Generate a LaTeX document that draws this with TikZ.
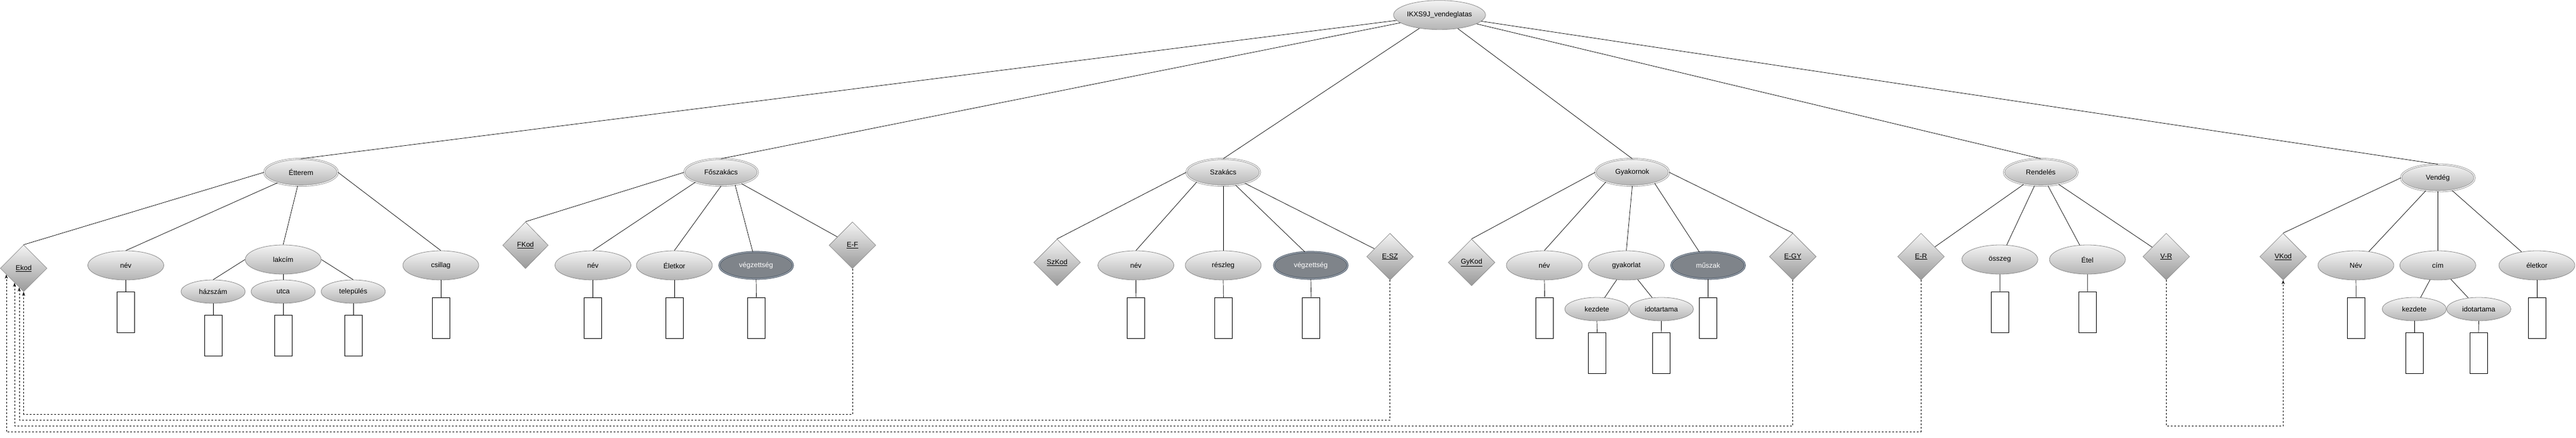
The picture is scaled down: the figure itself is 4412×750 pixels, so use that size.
\documentclass[tikz,border=0pt]{standalone}
\usepackage{fontspec}
\setmainfont{Liberation Sans}
\usetikzlibrary{shapes.geometric,arrows.meta}
\definecolor{gtop}{HTML}{F4F4F4}
\definecolor{gbot}{HTML}{B4B4B4}
\definecolor{gline}{HTML}{8C8C8C}
\definecolor{dfill}{HTML}{7F848A}
\definecolor{dline}{HTML}{4E5A68}
\definecolor{dgap}{HTML}{A9B0B8}
\tikzset{
 base/.style={font=\fontsize{12}{14}\selectfont, inner sep=0pt, text=black},
 attr/.style={base, ellipse, draw=gline, line width=0.8pt, top color=gtop, bottom color=gbot, minimum width=130pt, minimum height=50pt},
 subattr/.style={attr, minimum width=110pt, minimum height=40pt},
 entity/.style={attr, double=white, double distance=1.4pt, minimum width=126pt, minimum height=46pt},
 multi/.style={base, ellipse, draw=dline, double=dgap, double distance=1.2pt, line width=1pt, fill=dfill, text=white, minimum width=126pt, minimum height=46pt},
 keyd/.style={base, diamond, draw=gline, line width=0.8pt, top color=gtop, bottom color=gbot!85!black, minimum width=80pt, minimum height=80pt},
 valbox/.style={draw=black, line width=0.8pt, fill=white, minimum width=30pt, minimum height=70pt, inner sep=0pt},
 link/.style={draw=black, line width=0.7pt},
 fk/.style={draw=black, line width=0.7pt, dash pattern=on 3pt off 3pt, -{Stealth[length=7pt,width=5pt]}},
}
\begin{document}
\begin{tikzpicture}[x=1pt,y=-1pt]
\useasboundingbox (0,0) rectangle (4412,750);
\fill[white] (0,0) rectangle (4412,750);

% root
\node[attr, minimum width=129pt] (root) at (2465.5,25.7) {IKXS9J\_vendeglatas};

% entities
\node[entity] (etterem) at (515.5,295.5) {Étterem};
\node[entity] (fosz) at (1235,295.5) {Főszakács};
\node[entity] (szak) at (2095,295.5) {Szakács};
\node[entity] (gyak) at (2795.6,295.5) {Gyakornok};
\node[entity] (rend) at (3495.3,295.5) {Rendelés};
\node[entity] (vend) at (4175.3,305) {Vendég};

% Etterem attributes
\node[keyd] (ekod) at (40.5,460) {\underline{Ekod}};
\node[attr] (enev) at (215.5,455) {név};
\node[attr] (lakcim) at (485,445) {lakcím};
\node[subattr] (hazszam) at (365,500) {házszám};
\node[subattr] (utca) at (485,500) {utca};
\node[subattr] (telep) at (605,500) {település};
\node[attr] (csillag) at (755,455) {csillag};
\node[valbox] (benev) at (215.5,535) {};
\node[valbox] (bhaz) at (365,575) {};
\node[valbox] (butca) at (485,575) {};
\node[valbox] (btelep) at (605,575) {};
\node[valbox] (bcsil) at (755,545) {};

% Foszakacs attributes
\node[keyd, minimum width=78pt] (fkod) at (900,420.5) {\underline{FKod}};
\node[attr] (fnev) at (1015.5,455) {név};
\node[attr] (eletkor) at (1155,455) {Életkor};
\node[multi] (fvegz) at (1295,455) {végzettség};
\node[keyd] (ef) at (1460,420.5) {\underline{E-F}};
\node[valbox] (bfnev) at (1015.5,545) {};
\node[valbox] (belet) at (1155,545) {};
\node[valbox] (bfvegz) at (1295.5,545) {};

% Szakacs attributes
\node[keyd] (szkod) at (1810.5,450) {\underline{SzKod}};
\node[attr] (snev) at (1945.5,455) {név};
\node[attr] (reszleg) at (2095,455) {részleg};
\node[multi] (svegz) at (2245,455) {végzettség};
\node[keyd] (esz) at (2380.7,440) {\underline{E-SZ}};
\node[valbox] (bsnev) at (1945.6,545) {};
\node[valbox] (bresz) at (2095.4,545) {};
\node[valbox] (bsvegz) at (2245.8,545) {};

% Gyakornok attributes
\node[keyd] (gykod) at (2520.4,450) {\underline{GyKod}};
\node[attr] (gnev) at (2645,455) {név};
\node[attr] (gyakorlat) at (2785.5,455) {gyakorlat};
\node[subattr] (gkezd) at (2735,530) {kezdete};
\node[subattr] (gido) at (2845.4,530) {idotartama};
\node[multi] (muszak) at (2925.4,455) {műszak};
\node[keyd] (egy) at (3070.6,440) {\underline{E-GY}};
\node[valbox] (bgnev) at (2645.6,545) {};
\node[valbox] (bgkezd) at (2735.5,605) {};
\node[valbox] (bgido) at (2845.6,605) {};
\node[valbox] (bmusz) at (2925.5,545) {};

% Rendeles attributes
\node[keyd] (er) at (3290.2,440) {\underline{E-R}};
\node[attr] (osszeg) at (3425.2,445) {összeg};
\node[attr] (etel) at (3575.2,445) {Étel};
\node[keyd] (vr) at (3710.2,440) {\underline{V-R}};
\node[valbox] (bossz) at (3425.3,535) {};
\node[valbox] (betel) at (3575.3,535) {};

% Vendeg attributes
\node[keyd] (vkod) at (3910.4,440) {\underline{VKod}};
\node[attr] (vnev) at (4035,455) {Név};
\node[attr] (cim) at (4175.3,455) {cím};
\node[subattr] (vkezd) at (4135,530) {kezdete};
\node[subattr] (vido) at (4245.5,530) {idotartama};
\node[attr] (veletkor) at (4345,455) {életkor};
\node[valbox] (bvnev) at (4035.3,545) {};
\node[valbox] (bvkezd) at (4135,605) {};
\node[valbox] (bvido) at (4245,605) {};
\node[valbox] (bvelet) at (4345,545) {};

% root links
\draw[link] (root) -- (etterem.north);
\draw[link] (root) -- (fosz.north);
\draw[link] (root) -- (szak.north);
\draw[link] (root) -- (gyak.north);
\draw[link] (root) -- (rend.north);
\draw[link] (root) -- (vend.north);

% Etterem links
\draw[link] (etterem.west) -- (ekod.north);
\draw[link] (etterem) -- (enev.north);
\draw[link] (etterem) -- (lakcim.north);
\draw[link] (etterem.east) -- (csillag.north);
\draw[link] (lakcim.west) -- (hazszam.north);
\draw[link] (lakcim.south) -- (utca.north);
\draw[link] (lakcim.east) -- (telep.north);
\draw[link] (enev.south) -- (benev.north);
\draw[link] (hazszam.south) -- (bhaz.north);
\draw[link] (utca.south) -- (butca.north);
\draw[link] (telep.south) -- (btelep.north);
\draw[link] (csillag.south) -- (bcsil.north);

% Foszakacs links
\draw[link] (fosz.west) -- (fkod.north);
\draw[link] (fosz.201) -- (fnev.north);
\draw[link] (fosz.south) -- (eletkor.north);
\draw[link] (fosz.-42) -- (fvegz.104);
\draw[link] (fosz) -- (ef);
\draw[link] (fnev.south) -- (bfnev.north);
\draw[link] (eletkor.south) -- (belet.north);
\draw[link] (fvegz.south) -- (bfvegz.north);

% Szakacs links
\draw[link] (szak.west) -- (szkod.north);
\draw[link] (szak.200) -- (snev.north);
\draw[link] (szak.south) -- (reszleg.north);
\draw[link] (szak.-46) -- (svegz.114);
\draw[link] (szak) -- (esz);
\draw[link] (snev.south) -- (bsnev.north);
\draw[link] (reszleg.south) -- (bresz.north);
\draw[link] (svegz.south) -- (bsvegz.north);

% Gyakornok links
\draw[link] (gyak.west) -- (gykod.north);
\draw[link] (gyak.200) -- (gnev.north);
\draw[link] (gyak.south) -- (gyakorlat.north);
\draw[link] (gyak.-26) -- (muszak.123);
\draw[link] (gyak.east) -- (egy.north);
\draw[link] (gyakorlat) -- (gkezd);
\draw[link] (gyakorlat) -- (gido);
\draw[link] (gnev.south) -- (bgnev.north);
\draw[link] (gkezd.south) -- (bgkezd.north);
\draw[link] (gido.south) -- (bgido.north);
\draw[link] (muszak.south) -- (bmusz.north);

% Rendeles links
\draw[link] (rend) -- (er);
\draw[link] (rend) -- (osszeg);
\draw[link] (rend) -- (etel);
\draw[link] (rend) -- (vr);
\draw[link] (osszeg.south) -- (bossz.north);
\draw[link] (etel.south) -- (betel.north);

% Vendeg links
\draw[link] (vend.west) -- (vkod.north);
\draw[link] (vend) -- (vnev);
\draw[link] (vend.south) -- (cim.north);
\draw[link] (vend) -- (veletkor);
\draw[link] (cim) -- (vkezd);
\draw[link] (cim) -- (vido);
\draw[link] (vnev.south) -- (bvnev.north);
\draw[link] (vkezd.south) -- (bvkezd.north);
\draw[link] (vido.south) -- (bvido.north);
\draw[link] (veletkor.south) -- (bvelet.north);

% foreign key references
\draw[fk] (ef.south) -- ++(0,249.5) -| (ekod.south);
\draw[fk] (esz.south) -- ++(0,240) -| (ekod.257);
\draw[fk] (egy.south) -- ++(0,250) -| (ekod.238);
\draw[fk] (er.south) -- ++(0,260) -| (ekod.200);
\draw[fk] (vr.south) -- ++(0,250) -| (vkod.south);
\end{tikzpicture}
\end{document}
